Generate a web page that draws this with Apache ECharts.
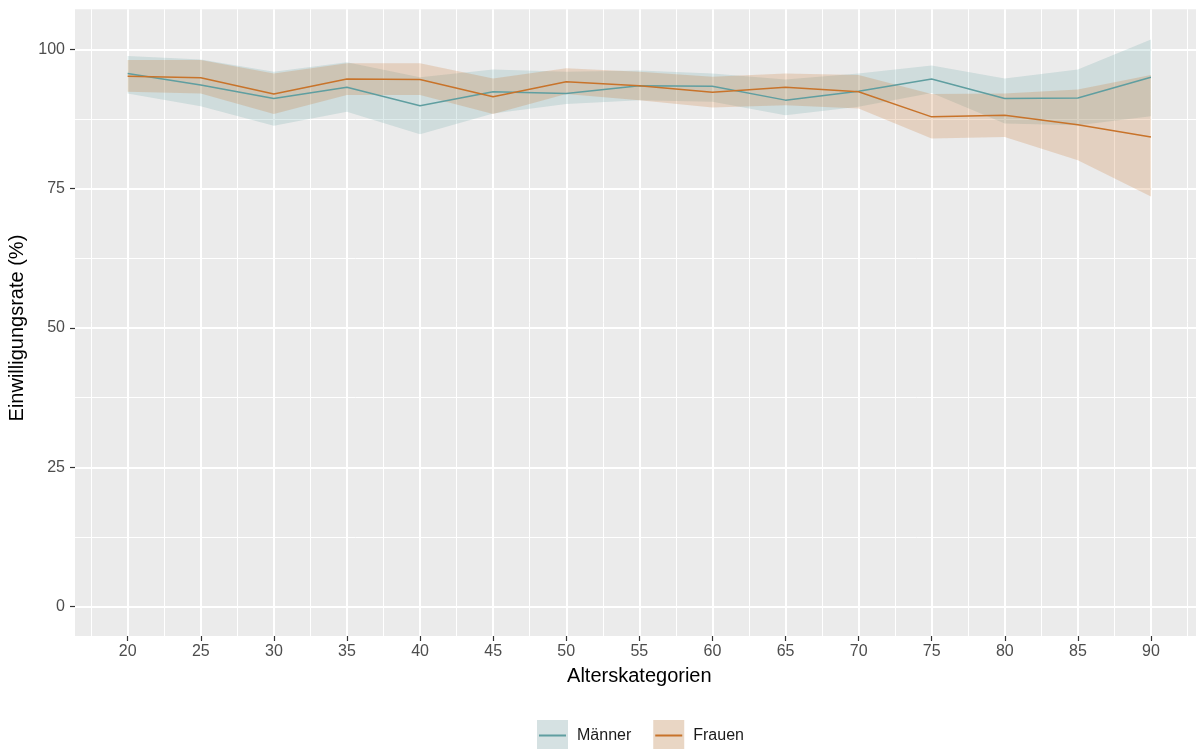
<!DOCTYPE html>
<html>
<head>
<meta charset="utf-8">
<script src="https://cdn.jsdelivr.net/npm/echarts@6/dist/echarts.min.js"></script>
<style>
html,body{margin:0;padding:0;background:#fff;}
#chart{width:1196px;height:749px;}
</style>
</head>
<body>
<div id="chart"></div>
<script>
// ---- data ----
const ages = [20, 25, 30, 35, 40, 45, 50, 55, 60, 65, 70, 75, 80, 85, 90];
const xTicks = [20, 25, 30, 35, 40, 45, 50, 55, 60, 65, 70, 75, 80, 85, 90];
const yTicks = [0, 25, 50, 75, 100];

const maennerRate  = [95.7, 93.6, 91.2, 93.2, 89.9, 92.4, 92.1, 93.5, 93.4, 90.9, 92.5, 94.7, 91.2, 91.3, 95.0];
const maennerLower = [92.1, 89.8, 86.3, 88.8, 84.8, 88.5, 90.2, 90.9, 90.6, 88.2, 89.7, 92.2, 86.7, 86.4, 88.0];
const maennerUpper = [98.8, 98.2, 96.0, 97.7, 95.0, 96.4, 96.0, 96.2, 95.7, 94.6, 95.7, 97.1, 94.8, 96.4, 101.8];

const frauenRate  = [95.2, 94.9, 92.0, 94.7, 94.6, 91.5, 94.2, 93.5, 92.3, 93.2, 92.4, 87.9, 88.2, 86.5, 84.3];
const frauenLower = [92.4, 92.1, 88.4, 91.8, 91.8, 88.4, 92.0, 90.9, 89.6, 90.0, 89.4, 84.0, 84.3, 80.1, 73.6];
const frauenUpper = [98.1, 98.1, 95.7, 97.5, 97.5, 94.8, 96.6, 96.0, 95.1, 95.7, 95.4, 92.0, 92.1, 92.8, 95.4];

const seriesNames = ['Männer', 'Frauen'];

// ---- styling ----
const FONT = 'Liberation Sans, Arial, Helvetica, sans-serif';
const lineColors = ['#5F9EA0', '#C8732A'];
const bandFills = ['rgba(95,158,160,0.2)', 'rgba(200,115,42,0.22)'];
const keyFills = ['#D5E1E2', '#E9D6C4'];

// panel geometry (px)
const PX_PER_X = (1151 - 127.7) / 70;
const PANEL_TOP = 9.3, PANEL_H = 626.7;
const X_MIN = 16.4, X_MAX = 93.6;
const Y_MIN = -5.26, Y_MAX = 107.2;
const X20 = 127.7;
const Y100 = PANEL_TOP + (Y_MAX - 100) / (Y_MAX - Y_MIN) * PANEL_H;
const Y0 = PANEL_TOP + (Y_MAX - 0) / (Y_MAX - Y_MIN) * PANEL_H;

function bandRenderer(lower, upper, fill) {
  return function (params, api) {
    if (params.dataIndex !== 0) return null;
    const pts = [];
    for (let i = 0; i < ages.length; i++) pts.push(api.coord([ages[i], upper[i]]));
    for (let i = ages.length - 1; i >= 0; i--) pts.push(api.coord([ages[i], lower[i]]));
    return { type: 'polygon', shape: { points: pts }, style: { fill: fill } };
  };
}

const hidden = { show: false };
const lineIcon = 'path://M0,0 L0.01,0 L0,0.01 Z M2,14.6 L29,14.6 L29,16.4 L2,16.4 Z M30.99,31 L31,31 L31,30.99 Z';

const legendBase = {
  orient: 'horizontal',
  left: 537,
  top: 720,
  padding: 0,
  itemWidth: 31,
  itemHeight: 31,
  itemGap: 22,
  selectedMode: false,
  symbolKeepAspect: true
};

const option = {
  animation: false,
  backgroundColor: '#ffffff',
  textStyle: { fontFamily: FONT },
  grid: [
    { // data panel
      left: 75, top: PANEL_TOP, width: (X_MAX - X_MIN) * PX_PER_X, height: PANEL_H,
      show: true, backgroundColor: '#EBEBEB', borderWidth: 0, containLabel: false, outerBoundsMode: 'none'
    },
    { // minor vertical grid lines
      left: X20 - 2.5 * PX_PER_X, top: PANEL_TOP, width: 75 * PX_PER_X, height: PANEL_H,
      show: false, containLabel: false, outerBoundsMode: 'none'
    },
    { // major vertical grid lines + x labels
      left: X20, top: PANEL_TOP, width: 70 * PX_PER_X, height: PANEL_H,
      show: false, containLabel: false, outerBoundsMode: 'none'
    },
    { // horizontal grid lines + y labels
      left: 75, top: Y100, width: (X_MAX - X_MIN) * PX_PER_X, height: Y0 - Y100,
      show: false, containLabel: false, outerBoundsMode: 'none'
    }
  ],
  xAxis: [
    { gridIndex: 0, type: 'value', min: X_MIN, max: X_MAX, show: false },
    {
      gridIndex: 1, type: 'value', min: 17.5, max: 92.5, interval: 5, z: 1,
      axisLine: hidden, axisTick: hidden, axisLabel: hidden,
      splitLine: { show: true, showMinLine: true, showMaxLine: true, lineStyle: { color: '#FFFFFF', width: 1 } }
    },
    {
      gridIndex: 2, type: 'value', min: 20, max: 90, interval: 5, z: 1,
      axisLine: hidden,
      axisTick: { show: true, length: 5, lineStyle: { color: '#333333', width: 1.2 } },
      axisLabel: {
        show: true, margin: 8, fontSize: 16, color: '#4D4D4D', fontFamily: FONT,
        customValues: xTicks,
        formatter: function (v) { return String(v); }
      },
      splitLine: { show: true, lineStyle: { color: '#FFFFFF', width: 2 } },
      name: 'Alterskategorien', nameLocation: 'middle', nameGap: 30,
      nameTextStyle: { fontSize: 20, color: '#000000', fontFamily: FONT }
    },
    { gridIndex: 3, type: 'value', min: 0, max: 1, show: false }
  ],
  yAxis: [
    { gridIndex: 0, type: 'value', min: Y_MIN, max: Y_MAX, show: false },
    { gridIndex: 1, type: 'value', min: 0, max: 1, show: false },
    { gridIndex: 2, type: 'value', min: 0, max: 1, show: false },
    {
      gridIndex: 3, type: 'value', min: 0, max: 100, interval: 25, z: 1,
      axisLine: hidden,
      axisTick: { show: true, length: 5, lineStyle: { color: '#333333', width: 1.2 } },
      axisLabel: {
        show: true, margin: 10, fontSize: 16, color: '#4D4D4D', fontFamily: FONT,
        customValues: yTicks,
        formatter: function (v) { return String(v); }
      },
      splitLine: { show: true, lineStyle: { color: '#FFFFFF', width: 2 } },
      minorTick: { show: false, splitNumber: 2 },
      minorSplitLine: { show: true, lineStyle: { color: '#FFFFFF', width: 1 } },
      name: 'Einwilligungsrate (%)', nameLocation: 'middle', nameGap: 43, nameRotate: 90,
      nameTextStyle: { fontSize: 20, color: '#000000', fontFamily: FONT }
    }
  ],
  legend: [
    Object.assign({}, legendBase, {
      data: seriesNames.map((n, i) => ({ name: n, icon: 'rect', itemStyle: { color: keyFills[i], borderWidth: 0 } })),
      textStyle: { fontSize: 16, color: '#1A1A1A', fontFamily: FONT, padding: [0, 0, 0, 4] }
    }),
    Object.assign({}, legendBase, {
      data: seriesNames.map((n, i) => ({ name: n, icon: lineIcon, itemStyle: { color: lineColors[i], borderWidth: 0 } })),
      textStyle: { fontSize: 16, color: 'rgba(0,0,0,0)', fontFamily: FONT, padding: [0, 0, 0, 4] }
    })
  ],
  series: [
    {
      name: seriesNames[0], type: 'custom', xAxisIndex: 0, yAxisIndex: 0, z: 2,
      renderItem: bandRenderer(maennerLower, maennerUpper, bandFills[0]),
      data: ages.map((a, i) => [a, maennerLower[i], maennerUpper[i]]),
      encode: { x: 0, y: [1, 2] },
      itemStyle: { color: lineColors[0] }, silent: true
    },
    {
      name: seriesNames[1], type: 'custom', xAxisIndex: 0, yAxisIndex: 0, z: 2,
      renderItem: bandRenderer(frauenLower, frauenUpper, bandFills[1]),
      data: ages.map((a, i) => [a, frauenLower[i], frauenUpper[i]]),
      encode: { x: 0, y: [1, 2] },
      itemStyle: { color: lineColors[1] }, silent: true
    },
    {
      name: seriesNames[0], type: 'line', xAxisIndex: 0, yAxisIndex: 0, z: 3,
      data: ages.map((a, i) => [a, maennerRate[i]]),
      showSymbol: false, symbol: 'none',
      lineStyle: { color: lineColors[0], width: 1.5 }, itemStyle: { color: lineColors[0] }
    },
    {
      name: seriesNames[1], type: 'line', xAxisIndex: 0, yAxisIndex: 0, z: 3,
      data: ages.map((a, i) => [a, frauenRate[i]]),
      showSymbol: false, symbol: 'none',
      lineStyle: { color: lineColors[1], width: 1.5 }, itemStyle: { color: lineColors[1] }
    }
  ]
};

const chart = echarts.init(document.getElementById('chart'), null, { renderer: 'canvas' });
chart.setOption(option);
</script>
</body>
</html>
